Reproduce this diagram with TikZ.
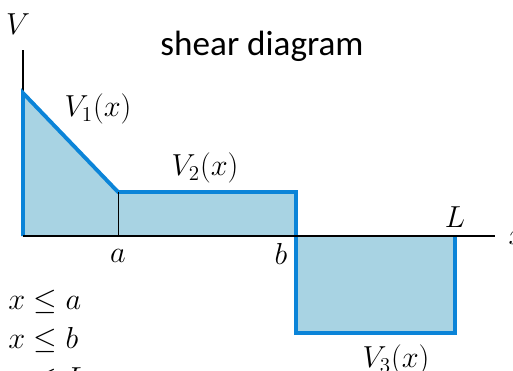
\documentclass[tikz,border=0pt]{standalone}
\usepackage{fontspec}
\usetikzlibrary{positioning}
\newfontfamily\titlefont{Carlito}
\definecolor{ShearBlue}{HTML}{0B84D8}
\definecolor{ShearFill}{HTML}{A8D3E3}

\begin{document}
\begin{tikzpicture}[x=0.02cm,y=-0.02cm]
    \tikzset{shearline/.style={draw=ShearBlue,line width=2.2pt,line join=miter},
      shearfill/.style={fill=ShearFill},
      axisline/.style={black,line width=0.8pt},
      mathlabel/.style={font=\fontsize{17}{20}\selectfont,inner sep=0pt}}
    \useasboundingbox (0,0) rectangle (513,371);
    \clip (0,0) rectangle (513,371);
    % corner points of the shear curve
    \coordinate (o) at (23,236);
    \coordinate (vtop) at (23,50);
    \coordinate (xend) at (495,236);
    \coordinate (p0) at (23,93);
    \coordinate (pa) at (118,192);
    \coordinate (pb) at (296,192);
    \coordinate (pbd) at (296,333);
    \coordinate (pl) at (455,333);
    \coordinate (pL) at (455,236);
    \coordinate (a0) at (118,236);
    \coordinate (b0) at (296,236);
    \fill[shearfill] (o) -- (p0) -- (pa) -- (pb) -- (b0) -- cycle;
    \fill[shearfill] (b0) -- (pbd) -- (pl) -- (pL) -- cycle;
    \draw[axisline] (o) -- (vtop);
    \draw[shearline] (o) -- (p0) -- (pa) -- (pb) -- (pbd) -- (pl) -- (pL);
    \draw[axisline] (o) -- (xend);
    \draw[black,line width=0.5pt] (pa) -- (a0);
    % labels
    \node[mathlabel] (vlab) at (18,24) {$V$};
    \node[mathlabel] (xlab) at (517,238) {$x$};
    \node[font=\titlefont\fontsize{20}{24}\selectfont] (title) at (262,46) {shear diagram};
    \node[mathlabel] (v1) at (98,109) {$V_1(x)$};
    \node[mathlabel] (v2) at (205,168) {$V_2(x)$};
    \node[mathlabel] (v3) at (396,360) {$V_3(x)$};
    \node[mathlabel] (alab) at (118,256) {$a$};
    \node[mathlabel] (blab) at (281,254) {$b$};
    \node[mathlabel] (Llab) at (455,217) {$L$};
    \node[mathlabel,anchor=west] (r1) at (8,302) {$x \le a$};
    \node[mathlabel,anchor=west] (r2) at (8,340) {$x \le b$};
    \node[mathlabel,anchor=west] (r3) at (8,380) {$x \le L$};
  \end{tikzpicture}
\end{document}
